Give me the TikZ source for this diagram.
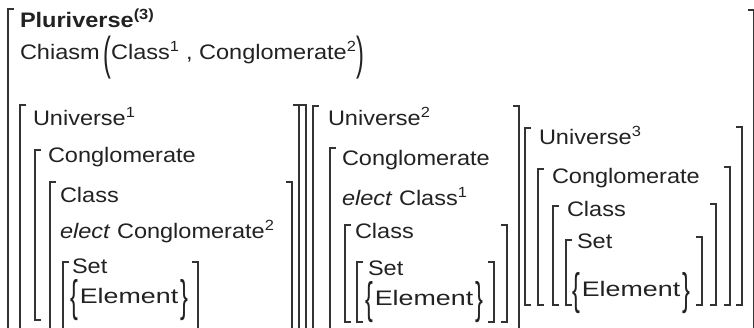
\documentclass[tikz,border=0pt]{standalone}
\usepackage{fontspec}
\setmainfont[FakeStretch=1.12]{Liberation Sans}
\usepackage{graphicx}
\definecolor{ink}{HTML}{222222}
\definecolor{brkc}{HTML}{333333}
\newcommand\LB[3]{\draw[brk] (#1+6,#2) -- (#1,#2) -- (#1,#3);}
\newcommand\LBc[3]{\draw[brk] (#1+6,#2) -- (#1,#2) -- (#1,#3) -- (#1+6,#3);}
\newcommand\RB[3]{\draw[brk] (#1-6,#2) -- (#1,#2) -- (#1,#3);}
\newcommand\RBc[3]{\draw[brk] (#1-6,#2) -- (#1,#2) -- (#1,#3) -- (#1-6,#3);}
\newcommand\bigp[1]{\raisebox{-10pt}{\scalebox{1}[2.2]{#1}}}
\newcommand\bigb[1]{\raisebox{-8pt}{\scalebox{1}[2.1]{#1}}}
\newcommand\elem{\bigb{\{}\hspace{2pt}\scalebox{1.14}[1]{Element}\hspace{2pt}\bigb{\}}}
\begin{document}
\begin{tikzpicture}[x=1pt,y=-1pt,
  brk/.style={draw=brkc,line width=1.1pt},
  txt/.style={anchor=base west,inner sep=0pt,outer sep=0pt,text=ink,font=\fontsize{21}{25}\selectfont}]
\useasboundingbox (0,0) rectangle (754,327);
\clip (0,0) rectangle (754,327);
\fill[white] (0,0) rectangle (754,327);
% outer Pluriverse bracket
\LB{8}{9}{340}
\RB{754}{10}{340}
\node[txt] (plu) at (20,27) {\textbf{Pluriverse\textsuperscript{(3)}}};
\node[txt] (chi) at (20,59) {Chiasm\,\bigp{(}Class\textsuperscript{1} , Conglomerate\textsuperscript{2}\bigp{)}};
% Universe 1
\LB{20}{105}{340}
\RB{299}{105}{340}
\RB{306}{105}{340}
\LBc{35}{150}{320}
\LB{50}{182}{340}
\RB{292}{182}{340}
\LB{63}{262}{340}
\RB{198}{262}{340}
\node[txt] (u1) at (33,125) {Universe\textsuperscript{1}};
\node[txt] (u1c) at (48,162) {Conglomerate};
\node[txt] (u1k) at (60,202) {Class};
\node[txt] (u1e) at (60,238) {\textit{elect} Conglomerate\textsuperscript{2}};
\node[txt] (u1s) at (72,273) {Set};
\node[txt] (u1el) at (70,303) {\elem};
% Universe 2
\LB{313}{106}{340}
\RB{519}{106}{340}
\LB{330}{148}{340}
\LBc{345}{225}{322}
\RBc{507}{225}{322}
\LBc{357}{262}{322}
\RBc{494}{262}{322}
\node[txt] (u2) at (328,125) {Universe\textsuperscript{2}};
\node[txt] (u2c) at (342,165) {Conglomerate};
\node[txt] (u2e) at (342,205) {\textit{elect} Class\textsuperscript{1}};
\node[txt] (u2k) at (355,238) {Class};
\node[txt] (u2s) at (368,275) {Set};
\node[txt] (u2el) at (365,305) {\elem};
% Universe 3
\LBc{525}{128}{305}
\LBc{538}{169}{305}
\LBc{553}{206}{305}
\LBc{566}{240}{305}
\RBc{742}{127}{305}
\RBc{730}{167}{305}
\RBc{716}{204}{305}
\RBc{702}{237}{305}
\node[txt] (u3) at (539,144) {Universe\textsuperscript{3}};
\node[txt] (u3c) at (552,183) {Conglomerate};
\node[txt] (u3k) at (567,216) {Class};
\node[txt] (u3s) at (577,248) {Set};
\node[txt] (u3el) at (572,296) {\elem};
\end{tikzpicture}
\end{document}
